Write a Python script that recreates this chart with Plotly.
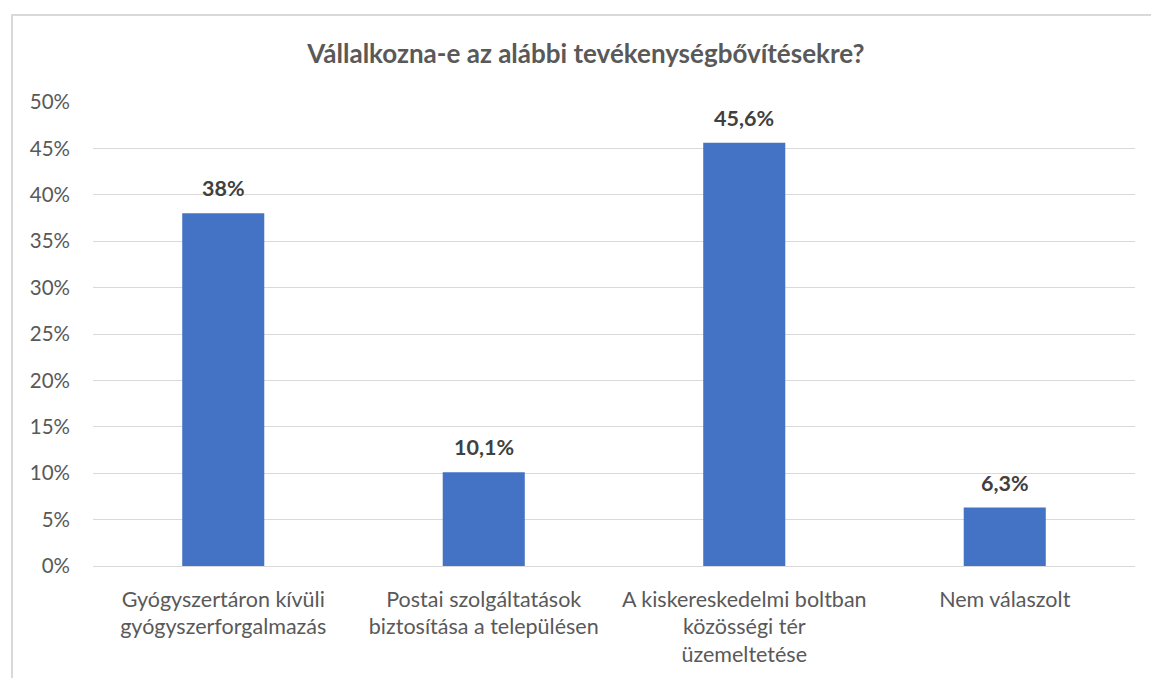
import plotly.graph_objects as go

# Survey answers: share of respondents per option
categories = [
    "Gyógyszertáron kívüli<br>gyógyszerforgalmazás",
    "Postai szolgáltatások<br>biztosítása a településen",
    "A kiskereskedelmi boltban<br>közösségi tér<br>üzemeltetése",
    "Nem válaszolt",
]
values = [0.38, 0.101, 0.456, 0.063]
value_labels = ["38%", "10,1%", "45,6%", "6,3%"]
y_ticks = [0, 0.05, 0.10, 0.15, 0.20, 0.25, 0.30, 0.35, 0.40, 0.45, 0.50]

FONT = "Lato, Open Sans, sans-serif"
GRID = "#D9D9D9"

fig = go.Figure(
    go.Bar(
        x=categories,
        y=values,
        marker=dict(color="#4472C4", line=dict(width=0)),
        cliponaxis=False,
        hoverinfo="x+y",
    )
)

# Value labels above each bar
for cat, val, lab in zip(categories, values, value_labels):
    fig.add_annotation(
        x=cat,
        y=val,
        text=f"<b>{lab}</b>",
        showarrow=False,
        yanchor="middle",
        yshift=25,
        font=dict(family=FONT, size=21.5, color="#404040"),
    )

fig.update_layout(
    width=1151,
    height=678,
    margin=dict(l=93, r=16, t=102, b=112, autoexpand=False),
    paper_bgcolor="white",
    plot_bgcolor="white",
    separators=", ",
    bargap=0.685,
    showlegend=False,
    font=dict(family=FONT, color="#595959"),
    title=dict(
        text="<b>Vállalkozna-e az alábbi tevékenységbővítésekre?</b>",
        x=0.509,
        xanchor="center",
        y=1 - 54 / 678,
        yanchor="middle",
        font=dict(family=FONT, size=26, color="#595959"),
    ),
)

fig.update_yaxes(
    range=[0, 0.5],
    tickvals=y_ticks,
    tickformat=".0%",
    showgrid=True,
    gridcolor=GRID,
    gridwidth=1,
    zeroline=True,
    zerolinecolor=GRID,
    zerolinewidth=1,
    showline=False,
    ticks="",
    automargin=False,
    ticklabelstandoff=22,
    tickfont=dict(family=FONT, size=20.5, color="#595959"),
)

fig.update_xaxes(
    showgrid=False,
    showline=False,
    ticks="",
    automargin=False,
    ticklabelstandoff=18,
    tickfont=dict(family=FONT, size=21.5, color="#595959"),
)

# Outer chart frame
fig.add_shape(
    type="rect",
    xref="paper",
    yref="paper",
    x0=(12 - 93) / 1042,
    x1=1.1,
    y0=-0.5,
    y1=(566 - 15) / 464,
    line=dict(color=GRID, width=2),
    fillcolor="rgba(0,0,0,0)",
    layer="below",
)

fig.write_html("out.html")
